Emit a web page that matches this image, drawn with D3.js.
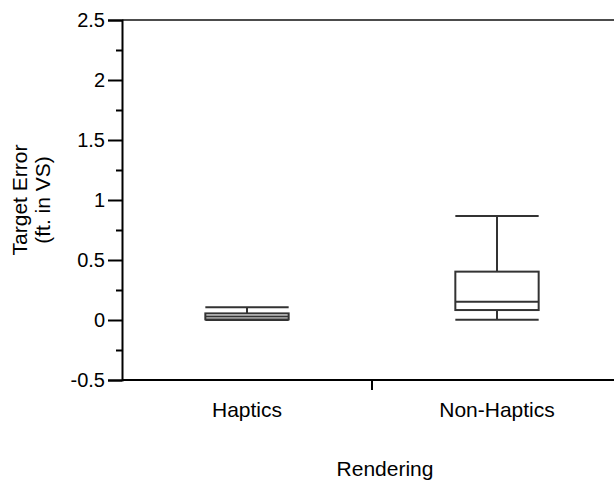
<!DOCTYPE html>
<html>
<head>
<meta charset="utf-8">
<script src="https://cdn.jsdelivr.net/npm/d3@7"></script>
<style>
  html, body { margin: 0; padding: 0; background: #fff; }
  svg { display: block; font-family: "Liberation Sans", Arial, sans-serif; }
</style>
</head>
<body>
<svg id="chart" width="614" height="483"></svg>
<script>
// Box plot summaries per rendering condition (target error, ft. in VS)
const categories = ["Haptics", "Non-Haptics"];
const whiskerLow = [0.0, 0.003];
const q1 = [0.005, 0.083];
const median = [0.03, 0.153];
const q3 = [0.055, 0.403];
const whiskerHigh = [0.106, 0.867];

const yMajorTicks = [-0.5, 0, 0.5, 1, 1.5, 2, 2.5];
const yMinorTicks = [-0.25, 0.25, 0.75, 1.25, 1.75, 2.25];

const svg = d3.select("#chart");
const plotLeft = 122, plotRight = 622, plotTop = 20, plotBottom = 380;
const fontFamily = "'Liberation Sans', Arial, sans-serif";

const x = d3.scaleBand().domain(categories).range([plotLeft, plotRight]).padding(0);
const y = d3.scaleLinear().domain([-0.5, 2.5]).range([plotBottom, plotTop]);

const boxes = categories.map((c, i) => ({
  cat: c, lo: whiskerLow[i], q1: q1[i], med: median[i], q3: q3[i], hi: whiskerHigh[i]
}));

// Boxes and whiskers
const boxW = x.bandwidth() / 3;
const stroke = "#333";
const g = svg.append("g");
boxes.forEach(b => {
  const cx = x(b.cat) + x.bandwidth() / 2;
  const bg = g.append("g").attr("fill", "none").attr("stroke", stroke).attr("stroke-width", 2);
  // whisker stems
  bg.append("line").attr("x1", cx).attr("x2", cx).attr("y1", y(b.q3)).attr("y2", y(b.hi));
  bg.append("line").attr("x1", cx).attr("x2", cx).attr("y1", y(b.q1)).attr("y2", y(b.lo));
  // caps
  bg.append("line").attr("x1", cx - boxW / 2).attr("x2", cx + boxW / 2).attr("y1", y(b.hi)).attr("y2", y(b.hi));
  bg.append("line").attr("x1", cx - boxW / 2).attr("x2", cx + boxW / 2).attr("y1", y(b.lo)).attr("y2", y(b.lo));
  // box
  bg.append("rect").attr("x", cx - boxW / 2).attr("width", boxW)
    .attr("y", y(b.q3)).attr("height", y(b.q1) - y(b.q3));
  // median
  bg.append("line").attr("x1", cx - boxW / 2).attr("x2", cx + boxW / 2).attr("y1", y(b.med)).attr("y2", y(b.med));
});

// Top frame line
svg.append("line").attr("x1", plotLeft).attr("x2", plotRight).attr("y1", plotTop).attr("y2", plotTop)
  .attr("stroke", "#111").attr("stroke-width", 1.5);

// Y axis with major labelled ticks and minor ticks
const yAxis = d3.axisLeft(y).tickValues(yMajorTicks).tickSize(14).tickPadding(3)
  .tickFormat(d => String(d));
const ya = svg.append("g").attr("transform", `translate(${plotLeft},0)`).call(yAxis);
ya.select(".domain").attr("stroke", "#000").attr("stroke-width", 2);
ya.selectAll(".tick line").attr("stroke", "#000").attr("stroke-width", 2);
ya.selectAll(".tick text").attr("font-size", 20).attr("fill", "#000")
  .attr("font-family", fontFamily);
const yMinor = d3.axisLeft(y).tickValues(yMinorTicks).tickSize(6).tickFormat("");
const ym = svg.append("g").attr("transform", `translate(${plotLeft},0)`).call(yMinor);
ym.select(".domain").remove();
ym.selectAll(".tick line").attr("stroke", "#000").attr("stroke-width", 2);

// X axis: band boundaries ticked, category names centred below
const xa = svg.append("g").attr("transform", `translate(0,${plotBottom})`);
xa.append("line").attr("x1", plotLeft).attr("x2", plotRight).attr("stroke", "#000").attr("stroke-width", 2);
categories.slice(1).forEach(c => {
  xa.append("line").attr("x1", x(c)).attr("x2", x(c)).attr("y1", 0).attr("y2", 10)
    .attr("stroke", "#000").attr("stroke-width", 2);
});
xa.selectAll("text.cat").data(categories).join("text")
  .attr("class", "cat")
  .attr("x", d => x(d) + x.bandwidth() / 2)
  .attr("y", 37)
  .attr("text-anchor", "middle")
  .attr("font-size", 21)
  .text(d => d);

// Axis titles
svg.append("text").attr("x", 385).attr("y", 476)
  .attr("text-anchor", "middle").attr("font-size", 21).text("Rendering");

const yt = svg.append("text").attr("transform", "translate(27,200) rotate(-90)")
  .attr("text-anchor", "middle").attr("font-size", 21);
yt.append("tspan").attr("x", 0).attr("dy", 0).text("Target Error");
yt.append("tspan").attr("x", 0).attr("dy", 23).text("(ft. in VS)");
</script>
</body>
</html>
